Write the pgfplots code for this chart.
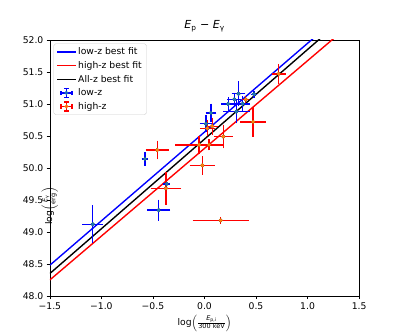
\documentclass[border=0pt]{standalone}
\usepackage{fontspec}
\setmainfont{DejaVu Sans}
\usepackage{amsmath}
\usepackage{pgfplots}
\usepackage{pgfplotstable}
\pgfplotsset{compat=1.18}
\definecolor{c0}{HTML}{1F77B4}
\definecolor{c1}{HTML}{FF7F0E}

% low-z sample: x, y, x error, y error
\pgfplotstableread{
x y ex ey
-1.085 49.12 0.08 0.26
-0.445 49.34 0.09 0.13
-0.578 50.14 0.01 0.07
-0.367 49.75 0.01 0.08
0.063 50.86 0.03 0.11
0.015 50.69 0.04 0.10
0.230 51.00 0.045 0.07
0.290 51.07 0.045 0.065
0.330 51.16 0.045 0.16
0.310 50.88 0.107 0.15
0.370 51.00 0.05 0.08
0.480 51.15 0.01 0.02
}\lowz

% high-z sample
\pgfplotstableread{
x y ex ey
-0.458 50.28 0.09 0.11
-0.374 49.68 0.125 0.22
-0.021 50.04 0.10 0.11
0.157 49.18 0.25 0.02
-0.053 50.36 0.21 0.11
0.044 50.36 0.10 0.05
0.183 50.49 0.07 0.15
0.471 50.72 0.10 0.20
0.027 50.62 0.05 0.09
0.075 50.65 0.03 0.10
0.400 51.07 0.01 0.02
0.720 51.47 0.045 0.12
}\highz

\begin{document}
\fontsize{10}{12}\selectfont
\begin{tikzpicture}
\begin{axis}[
  scale only axis, width=334.8pt, height=277.2pt,
  xmin=-1.5, xmax=1.5, ymin=48, ymax=52,
  xtick={-1.5,-1,-0.5,0,0.5,1,1.5},
  xticklabels={−1.5,−1.0,−0.5,0.0,0.5,1.0,1.5},
  ytick={48,48.5,49,49.5,50,50.5,51,51.5,52},
  yticklabel style={/pgf/number format/.cd, fixed, fixed zerofill, precision=1, assume math mode=true},
  tick align=outside, tick pos=left, major tick length=3.5pt,
  tick style={black, line width=0.8pt},
  axis line style={line width=0.8pt},
  ticklabel style={font=\fontsize{10}{12}\selectfont},
  title={\textit{E}\textsubscript{p} − \textit{E}\textsubscript{γ}},
  title style={font=\fontsize{12}{14}\selectfont, at={(axis description cs:0.5,1)}, anchor=base, yshift=6.5pt},
  xlabel={log$\left(\frac{\text{\textit{E}}_{\text{p,i}}}{\text{300 keV}}\right)$},
  ylabel={log$\left(\frac{\text{\textit{E}}_{\text{γ}}}{\text{erg}}\right)$},
  every axis x label/.style={at={(axis description cs:0.5,0)}, anchor=center, yshift=-29.6pt, font=\fontsize{10}{12}\selectfont},
  every axis y label/.style={at={(axis description cs:0,0.5)}, rotate=90, anchor=center, xshift=-41pt, font=\fontsize{10}{12}\selectfont},
  legend cell align=left,
  legend style={at={(0,1)}, anchor=north west, xshift=4pt, yshift=-4pt,
    draw=black!20, rounded corners=2pt, fill=white, fill opacity=0.8, text opacity=1,
    font=\fontsize{10}{12}\selectfont, row sep=1.6pt, inner xsep=3pt, inner ysep=2.5pt},
]
\addplot[blue, line width=1.5pt, legend image code/.code={\draw[blue,line width=1.5pt] (0pt,0pt)--(20pt,0pt);}]
  coordinates {(-1.5,48.48) (1.5,52.64)};
\addlegendentry{low-z best fit}
\addplot[red, line width=1.5pt, legend image code/.code={\draw[red,line width=1.5pt] (0pt,0pt)--(20pt,0pt);}]
  coordinates {(-1.5,48.25) (1.5,52.36)};
\addlegendentry{high-z best fit}
\addplot[black, line width=1.5pt, legend image code/.code={\draw[black,line width=1.5pt] (0pt,0pt)--(20pt,0pt);}]
  coordinates {(-1.5,48.35) (1.5,52.55)};
\addlegendentry{All-z best fit}

% error bars first, markers on top
\addplot[forget plot, only marks, mark=none,
  error bars/.cd, x dir=both, x explicit, y dir=both, y explicit,
  error bar style={draw=blue, line width=1.5pt},
  error mark options={draw=blue, line width=1.5pt, mark size=2.5pt}]
  table[x=x, y=y, x error=ex, y error=ey] {\lowz};
\addplot[forget plot, only marks, mark=none,
  error bars/.cd, x dir=both, x explicit, y dir=both, y explicit,
  error bar style={draw=red, line width=1.5pt},
  error mark options={draw=red, line width=1.5pt, mark size=2.5pt}]
  table[x=x, y=y, x error=ex, y error=ey] {\highz};

\addplot[only marks, mark=*, mark size=2pt, mark options={draw=c0, fill=c0},
  legend image code/.code={
    \draw[blue,line width=1.5pt] (4pt,0pt)--(16pt,0pt) (10pt,-5pt)--(10pt,5pt)
      (4pt,-2.5pt)--(4pt,2.5pt) (16pt,-2.5pt)--(16pt,2.5pt)
      (7.5pt,-5pt)--(12.5pt,-5pt) (7.5pt,5pt)--(12.5pt,5pt);
    \fill[c0] (10pt,0pt) circle (2pt);}]
  table[x=x, y=y] {\lowz};
\addlegendentry{low-z}
\addplot[only marks, mark=*, mark size=2pt, mark options={draw=c1, fill=c1},
  legend image code/.code={
    \draw[red,line width=1.5pt] (4pt,0pt)--(16pt,0pt) (10pt,-5pt)--(10pt,5pt)
      (4pt,-2.5pt)--(4pt,2.5pt) (16pt,-2.5pt)--(16pt,2.5pt)
      (7.5pt,-5pt)--(12.5pt,-5pt) (7.5pt,5pt)--(12.5pt,5pt);
    \fill[c1] (10pt,0pt) circle (2pt);}]
  table[x=x, y=y] {\highz};
\addlegendentry{high-z}
\end{axis}
\path ([shift={(-54pt,-39.6pt)}]current axis.south west) rectangle ([shift={(43.2pt,43.2pt)}]current axis.north east);
\end{tikzpicture}
\end{document}
